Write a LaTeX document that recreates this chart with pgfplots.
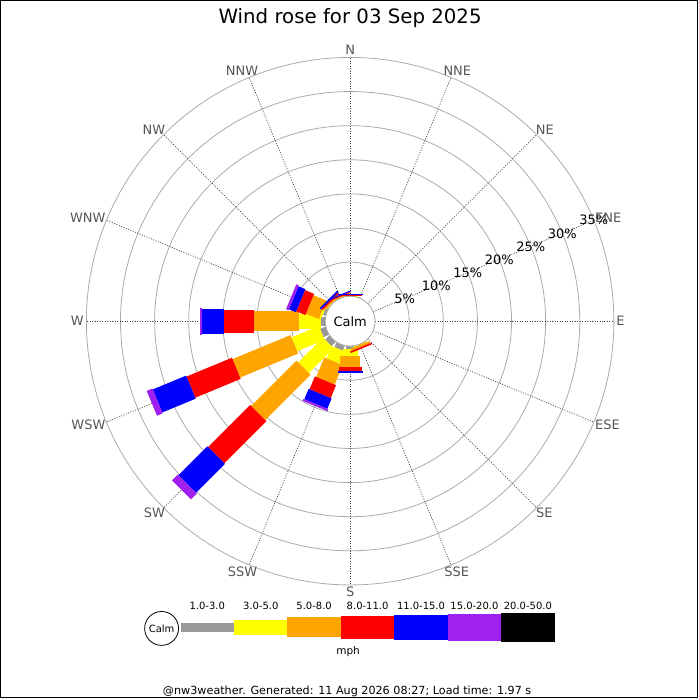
\documentclass[border=0pt]{standalone}
\usepackage{pgfplots}
\pgfplotsset{compat=1.18}
\usepackage{pgfplotstable}
\usepackage{fontspec}
\setmainfont{DejaVu Sans}

\definecolor{cgray}{HTML}{999999}
\definecolor{cyellow}{HTML}{FFFF00}
\definecolor{corange}{HTML}{FFA500}
\definecolor{cred}{HTML}{FF0000}
\definecolor{cblue}{HTML}{0000FF}
\definecolor{cpurple}{HTML}{A020F0}
\definecolor{ringgray}{HTML}{AAAAAA}
\definecolor{labgray}{HTML}{555555}

% a = bearing (deg from N, clockwise), lo/hi = cumulative percent
\pgfplotstableread{
a lo hi
270 0 0.6
247.5 0 0.85
225 0 0.85
202.5 0 0.75
180 0 0.4
292.5 0 0.4
}\tgray
\pgfplotstableread{
a lo hi
270 0.6 3.8
247.5 0.85 5.2
225 0.85 6.0
202.5 0.75 2.7
180 0.4 1.4
292.5 0.4 0.7
315 0 0.1
0 0 0.1
157.5 0 0.1
}\tyellow
\pgfplotstableread{
a lo hi
270 3.8 10.5
247.5 5.2 14.4
225 6.0 15.4
202.5 2.7 5.8
180 1.4 3.1
292.5 0.7 2.75
315 0.1 0.35
337.5 0 0.2
157.5 0.1 0.45
}\torange
\pgfplotstableread{
a lo hi
270 10.5 14.8
247.5 14.4 21.6
225 15.4 24.1
202.5 5.8 7.85
180 3.1 3.6
292.5 2.75 4.2
315 0.35 0.6
337.5 0.2 0.35
0 0.1 0.25
157.5 0.45 0.7
}\tred
\pgfplotstableread{
a lo hi
270 14.8 18.0
247.5 21.6 26.9
225 24.1 30.1
202.5 7.85 9.5
180 3.6 3.9
292.5 4.2 5.3
315 0.6 0.85
337.5 0.35 0.5
0 0.25 0.4
}\tblue
\pgfplotstableread{
a lo hi
270 18.0 18.4
247.5 26.9 27.8
225 30.1 31.3
202.5 9.5 9.8
292.5 5.3 5.7
}\tpurple

\def\BX{351+(25+6.84*\thisrow{lo})*sin(\thisrow{a})}
\def\BY{378+(25+6.84*\thisrow{lo})*cos(\thisrow{a})}
\def\BU{6.84*(\thisrow{hi}-\thisrow{lo})*sin(\thisrow{a})}
\def\BV{6.84*(\thisrow{hi}-\thisrow{lo})*cos(\thisrow{a})}

\begin{document}
\begin{tikzpicture}[x=1pt,y=1pt]
\path (0,0) rectangle (700,700);
% rings
\foreach \p in {5,10,...,35}
  \draw[ringgray, line width=0.8pt] (351,378) circle [radius={25pt+6.84pt*\p}];
% spokes
\foreach \i in {0,...,15}
  \draw[black!75, dash pattern=on 1pt off 1.5pt, line width=0.7pt]
    ({351+25*sin(22.5*\i)},{378+25*cos(22.5*\i)}) -- ({351+264.4*sin(22.5*\i)},{378+264.4*cos(22.5*\i)});

\begin{axis}[at={(0,0)}, anchor=south west, x=1pt, y=1pt, scale only axis,
  xmin=0, xmax=700, ymin=0, ymax=700, hide axis, clip=false]
\addplot[cgray, line width=9pt, quiver={u={\BU}, v={\BV}}] table[x expr={\BX}, y expr={\BY}] {\tgray};
\addplot[cyellow, line width=15pt, quiver={u={\BU}, v={\BV}}] table[x expr={\BX}, y expr={\BY}] {\tyellow};
\addplot[corange, line width=20pt, quiver={u={\BU}, v={\BV}}] table[x expr={\BX}, y expr={\BY}] {\torange};
\addplot[cred, line width=23pt, quiver={u={\BU}, v={\BV}}] table[x expr={\BX}, y expr={\BY}] {\tred};
\addplot[cblue, line width=25pt, quiver={u={\BU}, v={\BV}}] table[x expr={\BX}, y expr={\BY}] {\tblue};
\addplot[cpurple, line width=27pt, quiver={u={\BU}, v={\BV}}] table[x expr={\BX}, y expr={\BY}] {\tpurple};
\end{axis}

% calm circle
\draw[gray!70, fill=white, line width=0.8pt] (351,378) circle [radius=25pt];
\node[font=\fontsize{13}{15}\selectfont] at (351,378) {Calm};

% title
\node[font=\fontsize{19.8}{23}\selectfont] at (351,681.5) {Wind rose for 03 Sep 2025};

% compass labels (text box kept just outside the outer ring)
\foreach \lab/\w [count=\i from 0] in {N/4.9,NNE/13.8,NE/9.0,ENE/13.1,E/4.1,ESE/12.3,SE/8.2,SSE/12.4,S/4.1,SSW/14.7,SW/10.6,WSW/17.0,W/6.4,WNW/17.7,NW/11.3,NNW/16.2}
  \node[labgray, font=\fontsize{13}{15}\selectfont] at ({351+(267+\w)*sin(22.5*\i)},{378+271.75*cos(22.5*\i)}) {\lab};

% percent labels
\foreach \p in {5,10,...,35}
  \node[font=\fontsize{13}{15}\selectfont] at ({351+(25+6.84*\p)*sin(67.5)},{378+(25+6.84*\p)*cos(67.5)}) {\p\%};

% legend
\draw[black, fill=white, line width=0.8pt] (162,70) circle [radius=17pt];
\node[font=\fontsize{10}{12}\selectfont] at (162,70) {Calm};
\fill[cgray] (181,66.5) rectangle (234.6,75.5);
\fill[cyellow] (234.6,63.5) rectangle (288.1,78.5);
\fill[corange] (288.1,61) rectangle (341.7,81);
\fill[cred] (341.7,59.5) rectangle (395.3,82.5);
\fill[cblue] (395.3,58.5) rectangle (448.9,83.5);
\fill[cpurple] (448.9,57.5) rectangle (502.4,84.5);
\fill[black] (502.4,56.5) rectangle (556,85.5);
\foreach \lab [count=\i from 0] in {1.0-3.0,3.0-5.0,5.0-8.0,8.0-11.0,11.0-15.0,15.0-20.0,20.0-50.0}
  \node[font=\fontsize{10}{12}\selectfont] at ({181+53.57*(\i+0.5)},93) {\lab};
\node[font=\fontsize{10.5}{12}\selectfont] at (349,46.5) {mph};

% footer
\node[font=\fontsize{11.2}{13}\selectfont] at (348,7) {@nw3weather. Generated: 11 Aug 2026 08:27; Load time: 1.97 s};

% border
\draw[line width=1.5pt] (0.75,0.75) rectangle (699.25,699.25);
\end{tikzpicture}
\end{document}
